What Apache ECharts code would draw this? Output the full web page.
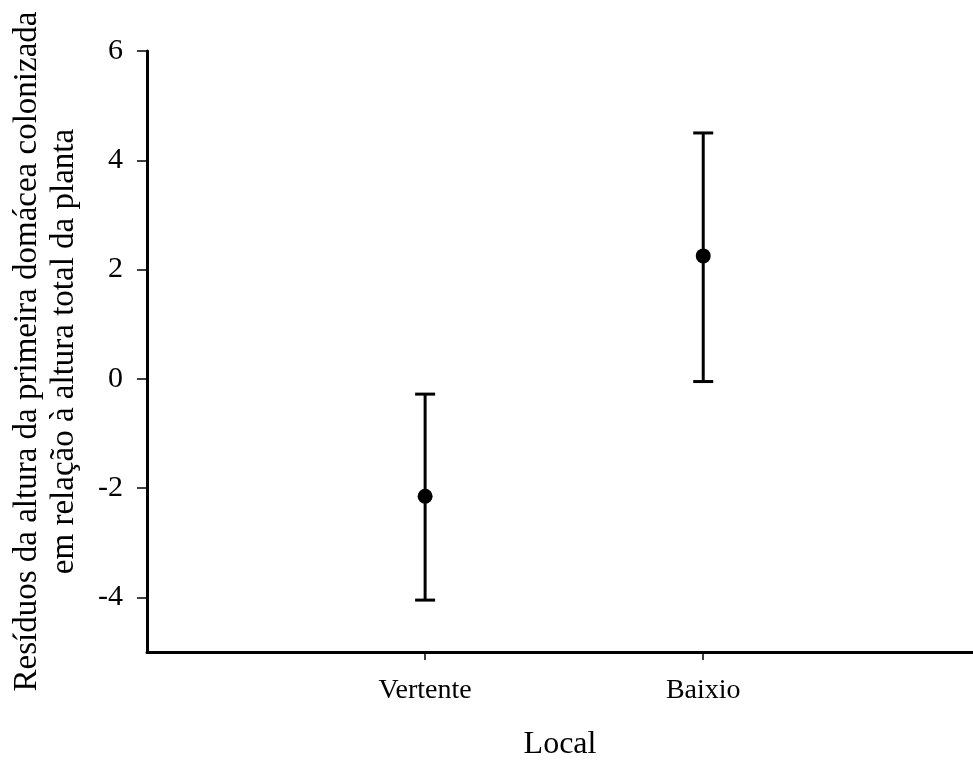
<!DOCTYPE html>
<html>
<head>
<meta charset="utf-8">
<script src="https://cdn.jsdelivr.net/npm/echarts@6/dist/echarts.min.js"></script>
<style>
html,body{margin:0;padding:0;background:#fff;}
#c{width:973px;height:760px;}
</style>
</head>
<body>
<div id="c"></div>
<script>
var categories = ['Vertente', 'Baixio'];
var categoryPos = [1, 2];
var means = [-2.15, 2.25];
var lower = [-4.05, -0.05];
var upper = [-0.28, 4.5];
var yTicks = [-4, -2, 0, 2, 4, 6];

var chart = echarts.init(document.getElementById('c'), null, {renderer: 'canvas'});
var font = 'Liberation Serif';

var barData = categories.map(function (c, i) { return [categoryPos[i], lower[i], upper[i]]; });
var dotData = categories.map(function (c, i) { return [categoryPos[i], means[i]]; });

chart.setOption({
  animation: false,
  backgroundColor: '#fff',
  grid: {left: 147, right: 0, top: 51, bottom: 108, containLabel: false, outerBoundsMode: 'none'},
  xAxis: {
    type: 'value', min: 0, max: 2.97, interval: 1,
    name: 'Local', nameLocation: 'middle', nameGap: 77,
    nameTextStyle: {fontFamily: font, fontSize: 32, color: '#000'},
    axisLine: {show: true, onZero: false, lineStyle: {color: '#000', width: 3}},
    axisTick: {show: true, length: 8, lineStyle: {color: '#000', width: 1.5},
      customValues: categoryPos},
    axisLabel: {show: true, fontFamily: font, fontSize: 28, color: '#000', margin: 25,
      customValues: categoryPos,
      formatter: function (v) { var i = categoryPos.indexOf(Math.round(v)); return i >= 0 ? categories[i] : ''; }},
    splitLine: {show: false}
  },
  yAxis: {
    type: 'value', min: -5, max: 6, interval: 1,
    name: 'Resíduos da altura da primeira domácea colonizada\nem relação à altura total da planta',
    nameLocation: 'middle', nameGap: 64, nameRotate: 90,
    nameTextStyle: {fontFamily: font, fontSize: 33, color: '#000', lineHeight: 37, align: 'center'},
    axisLine: {show: true, onZero: false, lineStyle: {color: '#000', width: 3}},
    axisTick: {show: true, length: 10, lineStyle: {color: '#000', width: 1.5}, customValues: yTicks},
    axisLabel: {show: true, fontFamily: font, fontSize: 30, color: '#000', margin: 24, customValues: yTicks},
    splitLine: {show: false}
  },
  series: [
    {
      type: 'custom',
      data: barData,
      renderItem: function (params, api) {
        var x = api.value(0);
        var lo = api.coord([x, api.value(1)]);
        var hi = api.coord([x, api.value(2)]);
        var hw = 10;
        var st = {stroke: '#000', lineWidth: 3, fill: null};
        return {type: 'group', children: [
          {type: 'line', shape: {x1: lo[0], y1: lo[1], x2: hi[0], y2: hi[1]}, style: st},
          {type: 'line', shape: {x1: lo[0] - hw, y1: lo[1], x2: lo[0] + hw, y2: lo[1]}, style: st},
          {type: 'line', shape: {x1: hi[0] - hw, y1: hi[1], x2: hi[0] + hw, y2: hi[1]}, style: st}
        ]};
      },
      z: 2
    },
    {
      type: 'scatter',
      data: dotData,
      symbol: 'circle',
      symbolSize: 15,
      itemStyle: {color: '#000', opacity: 1},
      z: 3
    }
  ]
});
</script>
</body>
</html>
